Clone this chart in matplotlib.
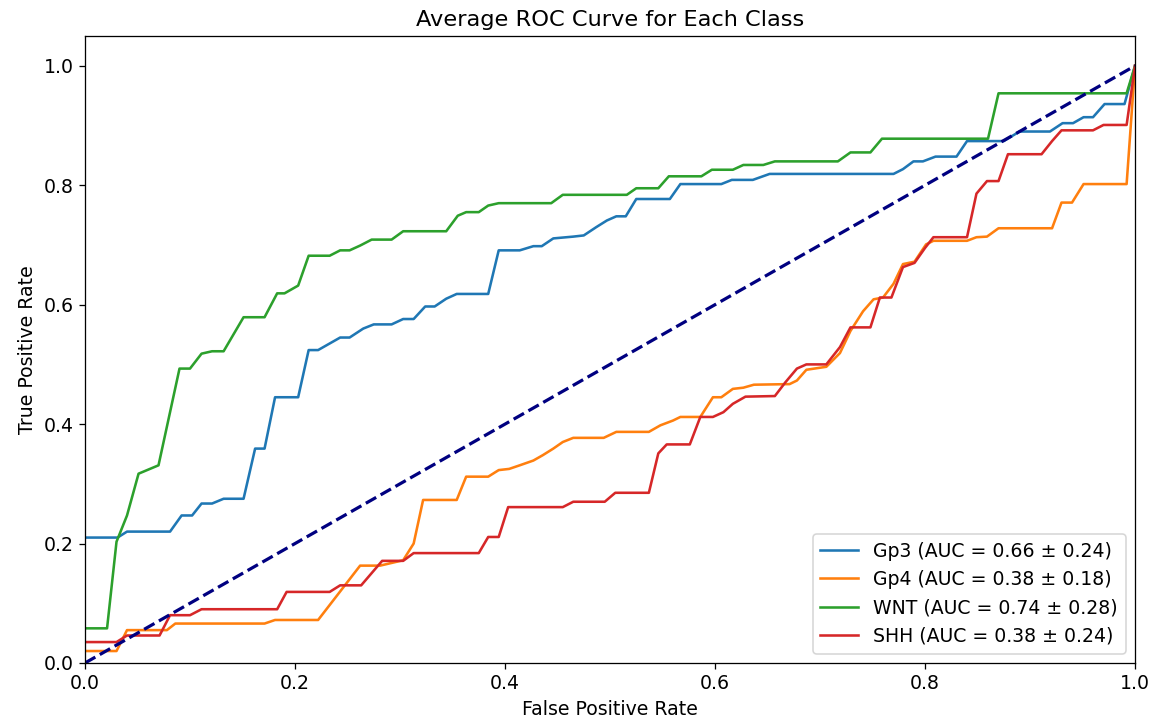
import matplotlib
matplotlib.use("Agg")
import matplotlib.pyplot as plt

# mean ROC curves (fpr, tpr vertices)
gp3_fpr = [0, 0.031, 0.04, 0.081, 0.092, 0.102, 0.111, 0.121, 0.132, 0.151, 0.162, 0.171, 0.181, 0.203,
           0.213, 0.222, 0.233, 0.243, 0.252, 0.265, 0.275, 0.292, 0.303, 0.313, 0.324, 0.333, 0.344, 0.354,
           0.384, 0.394, 0.414, 0.427, 0.435, 0.446, 0.465, 0.475, 0.487, 0.497, 0.506, 0.515, 0.525, 0.557,
           0.567, 0.606, 0.616, 0.636, 0.652, 0.77, 0.779, 0.789, 0.798, 0.81, 0.83, 0.84, 0.875, 0.89,
           0.919, 0.931, 0.941, 0.951, 0.96, 0.971, 0.99, 1.0]
gp3_tpr = [0.21, 0.21, 0.22, 0.22, 0.247, 0.247, 0.267, 0.267, 0.275, 0.275, 0.359, 0.359, 0.445, 0.445,
           0.524, 0.524, 0.535, 0.545, 0.545, 0.56, 0.567, 0.567, 0.576, 0.576, 0.597, 0.597, 0.61, 0.618,
           0.618, 0.691, 0.691, 0.698, 0.698, 0.711, 0.714, 0.716, 0.73, 0.741, 0.748, 0.748, 0.777, 0.777,
           0.802, 0.802, 0.809, 0.809, 0.819, 0.819, 0.827, 0.84, 0.84, 0.848, 0.848, 0.874, 0.874, 0.89,
           0.89, 0.904, 0.904, 0.914, 0.914, 0.936, 0.936, 1.0]

gp4_fpr = [0, 0.03, 0.04, 0.078, 0.086, 0.171, 0.181, 0.222, 0.262, 0.281, 0.303, 0.313, 0.322, 0.354,
           0.363, 0.384, 0.394, 0.404, 0.414, 0.427, 0.436, 0.446, 0.455, 0.465, 0.494, 0.506, 0.537, 0.548,
           0.56, 0.567, 0.586, 0.598, 0.606, 0.617, 0.627, 0.637, 0.671, 0.678, 0.687, 0.706, 0.719, 0.729,
           0.741, 0.751, 0.76, 0.77, 0.779, 0.79, 0.801, 0.808, 0.84, 0.849, 0.859, 0.87, 0.921, 0.93,
           0.94, 0.951, 0.992, 1.0]
gp4_tpr = [0.02, 0.02, 0.055, 0.055, 0.066, 0.066, 0.072, 0.072, 0.163, 0.163, 0.172, 0.2, 0.273, 0.273,
           0.312, 0.312, 0.323, 0.325, 0.331, 0.339, 0.348, 0.359, 0.37, 0.377, 0.377, 0.387, 0.387, 0.398,
           0.406, 0.412, 0.412, 0.445, 0.445, 0.459, 0.461, 0.466, 0.467, 0.473, 0.491, 0.496, 0.519, 0.556,
           0.589, 0.609, 0.612, 0.635, 0.668, 0.672, 0.701, 0.707, 0.707, 0.713, 0.714, 0.728, 0.728, 0.771,
           0.771, 0.802, 0.802, 1.0]

wnt_fpr = [0, 0.021, 0.03, 0.04, 0.051, 0.07, 0.09, 0.1, 0.111, 0.121, 0.132, 0.151, 0.171, 0.183, 0.19,
           0.203, 0.213, 0.233, 0.243, 0.252, 0.262, 0.273, 0.292, 0.303, 0.344, 0.355, 0.363, 0.375, 0.384,
           0.394, 0.444, 0.455, 0.516, 0.525, 0.546, 0.556, 0.587, 0.597, 0.617, 0.627, 0.646, 0.657, 0.717,
           0.729, 0.748, 0.759, 0.86, 0.87, 0.992, 1.0]
wnt_tpr = [0.058, 0.058, 0.203, 0.247, 0.317, 0.331, 0.493, 0.493, 0.518, 0.522, 0.522, 0.579, 0.579, 0.619,
           0.619, 0.632, 0.682, 0.682, 0.691, 0.691, 0.699, 0.709, 0.709, 0.723, 0.723, 0.749, 0.755, 0.755,
           0.766, 0.77, 0.77, 0.784, 0.784, 0.795, 0.795, 0.815, 0.815, 0.826, 0.826, 0.834, 0.834, 0.84,
           0.84, 0.855, 0.855, 0.878, 0.878, 0.954, 0.954, 1.0]

shh_fpr = [0, 0.03, 0.04, 0.071, 0.081, 0.1, 0.111, 0.183, 0.192, 0.233, 0.243, 0.263, 0.283, 0.303, 0.313,
           0.375, 0.384, 0.394, 0.403, 0.455, 0.465, 0.495, 0.505, 0.537, 0.546, 0.554, 0.576, 0.586, 0.598,
           0.608, 0.617, 0.629, 0.657, 0.667, 0.678, 0.687, 0.706, 0.719, 0.729, 0.748, 0.757, 0.768, 0.779,
           0.79, 0.8, 0.808, 0.84, 0.849, 0.859, 0.87, 0.879, 0.911, 0.921, 0.93, 0.96, 0.97, 0.992, 1.0]
shh_tpr = [0.035, 0.035, 0.046, 0.046, 0.08, 0.08, 0.09, 0.09, 0.119, 0.119, 0.13, 0.13, 0.171, 0.171, 0.184,
           0.184, 0.211, 0.211, 0.261, 0.261, 0.27, 0.27, 0.285, 0.285, 0.351, 0.366, 0.366, 0.412, 0.412,
           0.42, 0.434, 0.446, 0.447, 0.47, 0.493, 0.5, 0.5, 0.529, 0.562, 0.562, 0.612, 0.612, 0.663,
           0.67, 0.695, 0.713, 0.713, 0.786, 0.807, 0.807, 0.852, 0.852, 0.874, 0.892, 0.892, 0.901, 0.901, 1.0]

class_names = ["Gp3", "Gp4", "WNT", "SHH"]
auc_mean = [0.66, 0.38, 0.74, 0.38]
auc_std = [0.24, 0.18, 0.28, 0.24]

curves = [(gp3_fpr, gp3_tpr), (gp4_fpr, gp4_tpr), (wnt_fpr, wnt_tpr), (shh_fpr, shh_tpr)]

fig = plt.figure(figsize=(1155 / 115.5, 724 / 115.5), dpi=115.5)
ax = fig.add_axes([0.0736, 0.0843, 0.9091, 0.866])

for i in range(len(class_names)):
    fpr, tpr = curves[i]
    ax.plot(fpr, tpr, lw=1.6,
            label=f"{class_names[i]} (AUC = {auc_mean[i]:.2f} \u00b1 {auc_std[i]:.2f})")

ax.plot([0, 1], [0, 1], color="navy", lw=2, linestyle="--")
ax.set_xlim(0.0, 1.0)
ax.set_ylim(0.0, 1.05)
ax.tick_params(labelsize=11.8)
ax.set_xlabel("False Positive Rate", fontsize=11.8)
ax.set_ylabel("True Positive Rate", fontsize=11.8)
ax.set_title("Average ROC Curve for Each Class", fontsize=14)
ax.legend(loc="lower right", fontsize=11.8)

fig.savefig("out.png", dpi=115.5)
